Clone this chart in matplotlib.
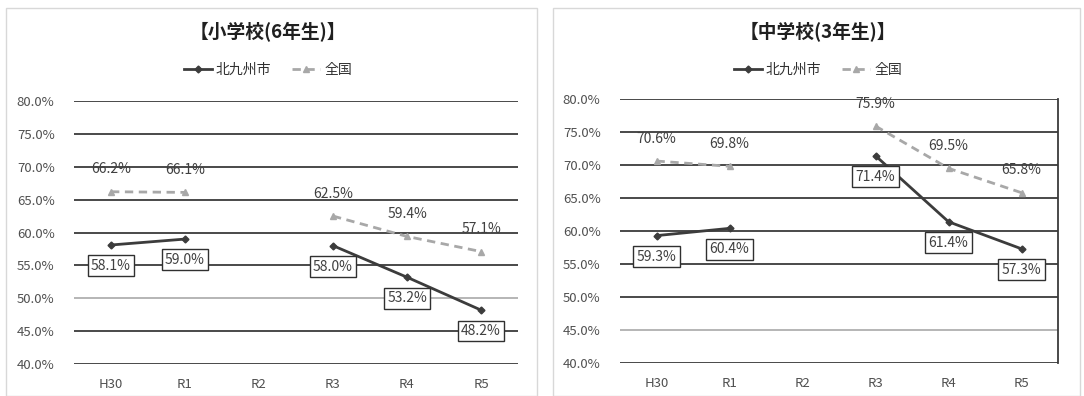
import numpy as np
import matplotlib.pyplot as plt
from matplotlib.patches import Rectangle

plt.rcParams['font.family'] = ['Noto Sans CJK JP', 'DejaVu Sans']

years = ['H30', 'R1', 'R2', 'R3', 'R4', 'R5']
yticks = [40, 45, 50, 55, 60, 65, 70, 75, 80]

# 小学校(6年生) ― R2は調査なし
sho_city = [58.1, 59.0, np.nan, 58.0, 53.2, 48.2]
sho_nat = [66.2, 66.1, np.nan, 62.5, 59.4, 57.1]
# 中学校(3年生)
chu_city = [59.3, 60.4, np.nan, 71.4, 61.4, 57.3]
chu_nat = [70.6, 69.8, np.nan, 75.9, 69.5, 65.8]

W, H = 1084, 396
fig = plt.figure(figsize=(W / 100, H / 100), dpi=100)
fig.patch.set_facecolor('white')

# パネル外枠
for x0, x1 in [(6, 537), (553, 1080)]:
    fig.patches.append(Rectangle((x0 / W, 0), (x1 - x0) / W, 1 - 8 / H,
                                 transform=fig.transFigure, fill=False,
                                 edgecolor='#d8d8d8', lw=1.0))


def draw_panel(rect, title, city, nat, light_grid, right_spine, title_x):
    ax = fig.add_axes(rect)
    x = np.arange(len(years))
    ax.set_xlim(-0.5, len(years) - 0.5)
    ax.set_ylim(40, 80)
    for v in yticks:
        col = '#b0b0b0' if v == light_grid else '#3a3a3a'
        ax.axhline(v, color=col, lw=1.3, zorder=1)
    for s in ax.spines.values():
        s.set_visible(False)
    if right_spine:
        ax.spines['right'].set_visible(True)
        ax.spines['right'].set_color('#3a3a3a')
        ax.spines['right'].set_linewidth(1.3)
    ax.set_xticks(x)
    ax.set_xticklabels(years, fontsize=9.5, color='#505050')
    ax.set_yticks(yticks)
    ax.set_yticklabels([f'{v:.1f}%' for v in yticks], fontsize=9.5, color='#505050')
    ax.tick_params(length=0, pad=10)
    ax.tick_params(axis='y', pad=14)

    ax.plot(x, nat, color='#a8a8a8', lw=2, ls=(0, (3, 2)), marker='^',
            ms=5, zorder=3, label='全国')
    ax.plot(x, city, color='#3c3c3c', lw=2, marker='D', ms=3.5, zorder=4,
            label='北九州市')

    for xi, v in zip(x, nat):
        if not np.isnan(v):
            ax.annotate(f'{v:.1f}%', (xi, v), xytext=(0, 11), textcoords='offset points',
                        ha='center', va='bottom', fontsize=10, color='#404040', zorder=5)
    for xi, v in zip(x, city):
        if not np.isnan(v):
            ax.annotate(f'{v:.1f}%', (xi, v), xytext=(0, -10), textcoords='offset points',
                        ha='center', va='top', fontsize=10, color='#404040', zorder=6,
                        bbox=dict(boxstyle='square,pad=0.25', fc='white',
                                  ec='#303030', lw=1.0))

    fig.text(title_x, 1 - 32 / H, title, ha='center', va='center',
             fontsize=13.5, fontweight='bold', color='#202020')
    handles, labels = ax.get_legend_handles_labels()
    fig.legend(handles[::-1], labels[::-1], loc='center',
               bbox_to_anchor=(title_x, 1 - 70 / H), ncol=2, frameon=False,
               fontsize=10, handlelength=2.0, columnspacing=1.5,
               handletextpad=0.3, labelcolor='#303030')
    return ax


draw_panel([74 / W, 1 - 364 / H, 444 / W, 263 / H], '【小学校(6年生)】',
           sho_city, sho_nat, 50, False, 268 / W)
draw_panel([620 / W, 1 - 363 / H, 438 / W, 264 / H], '【中学校(3年生)】',
           chu_city, chu_nat, 45, True, 818 / W)

fig.savefig('out.png', dpi=100)
